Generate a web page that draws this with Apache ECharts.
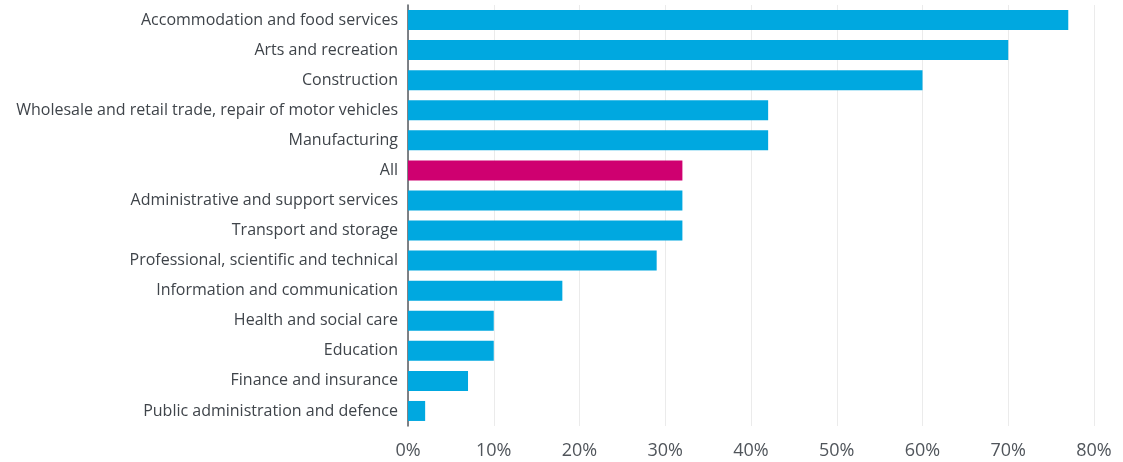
<!DOCTYPE html>
<html>
<head>
<meta charset="utf-8">
<script src="https://cdn.jsdelivr.net/npm/echarts@6/dist/echarts.min.js"></script>
<style>
  html, body { margin: 0; padding: 0; background: #fff; }
  #chart { width: 1123px; height: 462px; }
</style>
</head>
<body>
<div id="chart"></div>
<script>
// Sectors, top to bottom
const sectors = [
  'Accommodation and food services',
  'Arts and recreation',
  'Construction',
  'Wholesale and retail trade, repair of motor vehicles',
  'Manufacturing',
  'All',
  'Administrative and support services',
  'Transport and storage',
  'Professional, scientific and technical',
  'Information and communication',
  'Health and social care',
  'Education',
  'Finance and insurance',
  'Public administration and defence'
];
// Share of businesses (%)
const shares = [77, 70, 60, 42, 42, 32, 32, 32, 29, 18, 10, 10, 7, 2];
const highlight = 'All';

const chart = echarts.init(document.getElementById('chart'));
const font = 'Open Sans';
chart.setOption({
  animation: false,
  grid: { left: 408, right: 29, top: 5, bottom: 36, containLabel: false },
  xAxis: {
    type: 'value', min: 0, max: 80, interval: 10,
    axisLine: { show: false }, axisTick: { show: false },
    splitLine: { lineStyle: { color: '#ebebeb', width: 1 } },
    axisLabel: { formatter: '{value}%', color: '#50555b', fontSize: 18, fontFamily: font, margin: 16 }
  },
  yAxis: {
    type: 'category', data: sectors, inverse: true,
    axisLine: { show: true, lineStyle: { color: '#555a60', width: 1.5 } },
    axisTick: { show: false },
    axisLabel: { color: '#3f444a', fontSize: 16, fontFamily: font, margin: 10 }
  },
  series: [{
    type: 'bar', barWidth: 20,
    data: shares.map((v, i) => ({
      value: v,
      itemStyle: { color: sectors[i] === highlight ? '#cf0070' : '#00a8e0' }
    }))
  }]
});
</script>
</body>
</html>
